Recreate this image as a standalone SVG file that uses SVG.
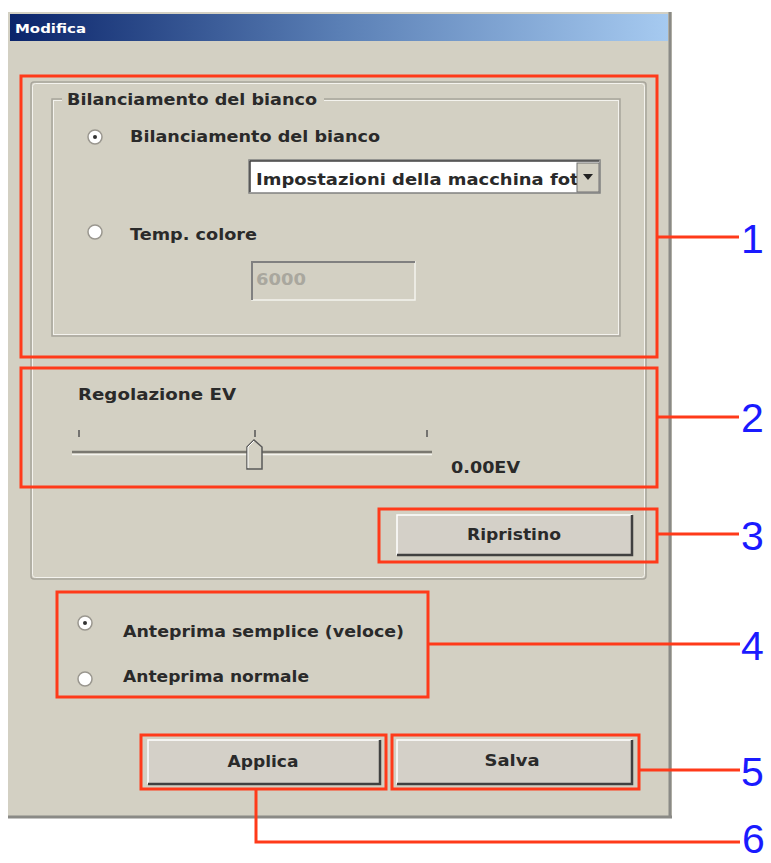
<svg xmlns="http://www.w3.org/2000/svg" width="771" height="863" viewBox="0 0 771 863">
<defs>
<linearGradient id="tb" x1="0" y1="0" x2="1" y2="0">
<stop offset="0" stop-color="#0a246a"/>
<stop offset="0.5" stop-color="#5a7fb5"/>
<stop offset="1" stop-color="#a6caf0"/>
</linearGradient>
<clipPath id="ddclip"><rect x="250" y="161" width="327" height="31"/></clipPath>
</defs>
<style>
.ui{font-family:"DejaVu Sans","Liberation Sans",sans-serif;font-weight:bold;font-size:15px;fill:#2a2a2a}
.num{font-family:"Liberation Sans",Arial,sans-serif;font-size:41px;fill:#1a1aff}
.hl{fill:none;stroke:#ff3a1a;stroke-width:3}
.ld{fill:none;stroke:#ff3a1a;stroke-width:3}
.grp{fill:none;stroke:#a8a59c;stroke-width:1.5}
.grpw{fill:none;stroke:#f4f3ee;stroke-width:1}
.btn{fill:#d4d0c8}
.radio{fill:#ffffff;stroke:#9a978f;stroke-width:1.5}
</style>
<rect x="0" y="0" width="771" height="863" fill="#ffffff"/>
<g id="window">
<rect x="8" y="12" width="664" height="806" fill="#d3d0c3"/>
<rect x="10" y="14" width="658" height="27" fill="url(#tb)"/>
<text x="15" y="33" font-family="DejaVu Sans,Liberation Sans,sans-serif" font-weight="bold" font-size="13" fill="#ffffff" textLength="71" lengthAdjust="spacingAndGlyphs">Modifica</text>
<line x1="670" y1="12" x2="670" y2="818" stroke="#8a8a86" stroke-width="3"/>
<line x1="8" y1="817" x2="672" y2="817" stroke="#8a8a86" stroke-width="3"/>
</g>
<g id="panel">
<rect x="31" y="82" width="615" height="497" rx="3" class="grp"/>
<rect x="32.5" y="83.5" width="612" height="494" rx="3" class="grpw"/>
</g>
<g id="wb-group">
<rect x="52" y="99" width="568" height="237" class="grp"/>
<rect x="53.5" y="100.5" width="565" height="234" class="grpw"/>
<rect x="62" y="92" width="262" height="16" fill="#d3d0c3"/>
<text x="67" y="105" class="ui" textLength="250" lengthAdjust="spacingAndGlyphs">Bilanciamento del bianco</text>
<circle cx="95" cy="137" r="7" class="radio"/>
<circle cx="95" cy="137" r="2" fill="#333"/>
<text x="130" y="142" class="ui" textLength="250" lengthAdjust="spacingAndGlyphs">Bilanciamento del bianco</text>
<rect x="249" y="160" width="351" height="33" fill="#ffffff" stroke="#808080" stroke-width="1.5"/>
<line x1="250" y1="161" x2="599" y2="161" stroke="#404040" stroke-width="1.5"/>
<line x1="250" y1="161" x2="250" y2="192" stroke="#404040" stroke-width="1.5"/>
<text x="256" y="185" class="ui" textLength="335" lengthAdjust="spacingAndGlyphs" clip-path="url(#ddclip)">Impostazioni della macchina foto</text>
<rect x="577" y="163" width="22" height="29" fill="#d3d0c3" stroke="#707070" stroke-width="1"/>
<path d="M583 174 L593 174 L588 180 Z" fill="#222"/>
<circle cx="95" cy="232" r="7" class="radio"/>
<text x="130" y="240" class="ui" textLength="127" lengthAdjust="spacingAndGlyphs">Temp. colore</text>
<rect x="252" y="262" width="163" height="38" fill="#d3d0c3" stroke="#f4f3ee" stroke-width="1.5"/>
<path d="M252 300 L252 262 L415 262" fill="none" stroke="#808080" stroke-width="2"/>
<text x="256" y="285" font-family="DejaVu Sans,Liberation Sans,sans-serif" font-weight="bold" font-size="15" fill="#a9a79e" textLength="50" lengthAdjust="spacingAndGlyphs">6000</text>
</g>
<g id="ev">
<text x="78" y="400" class="ui" textLength="158" lengthAdjust="spacingAndGlyphs">Regolazione EV</text>
<line x1="79" y1="430" x2="79" y2="437" stroke="#555" stroke-width="1.5"/>
<line x1="255" y1="430" x2="255" y2="437" stroke="#555" stroke-width="1.5"/>
<line x1="427" y1="430" x2="427" y2="437" stroke="#555" stroke-width="1.5"/>
<line x1="72" y1="452" x2="432" y2="452" stroke="#7a7870" stroke-width="2.5"/>
<line x1="72" y1="454.5" x2="432" y2="454.5" stroke="#f4f3ee" stroke-width="1.5"/>
<path d="M247 469 L247 447 L254 440 L262 447 L262 469 Z" fill="#d3d0c3" stroke="#5a5a5a" stroke-width="1.5"/>
<path d="M248 468 L248 447 L254 441" fill="none" stroke="#ffffff" stroke-width="1"/>
<text x="451" y="473" class="ui" textLength="69" lengthAdjust="spacingAndGlyphs">0.00EV</text>
</g>
<g id="ripristino">
<rect x="397" y="515" width="235" height="40" class="btn"/>
<path d="M397 555 L397 515 L632 515" fill="none" stroke="#ffffff" stroke-width="1.5"/>
<path d="M397 555 L632 555 L632 515" fill="none" stroke="#404040" stroke-width="2.5"/>
<text x="514" y="540" class="ui" text-anchor="middle" textLength="94" lengthAdjust="spacingAndGlyphs">Ripristino</text>
</g>
<g id="preview">
<circle cx="85" cy="623" r="7" class="radio"/>
<circle cx="85" cy="623" r="2" fill="#333"/>
<text x="123" y="637" class="ui" textLength="281" lengthAdjust="spacingAndGlyphs">Anteprima semplice (veloce)</text>
<circle cx="85" cy="679" r="7" class="radio"/>
<text x="123" y="682" class="ui" textLength="186" lengthAdjust="spacingAndGlyphs">Anteprima normale</text>
</g>
<g id="applica">
<rect x="148" y="740" width="232" height="44" class="btn"/>
<path d="M148 784 L148 740 L380 740" fill="none" stroke="#ffffff" stroke-width="1.5"/>
<path d="M148 784 L380 784 L380 740" fill="none" stroke="#404040" stroke-width="2.5"/>
<text x="263" y="767" class="ui" text-anchor="middle" textLength="71" lengthAdjust="spacingAndGlyphs">Applica</text>
</g>
<g id="salva">
<rect x="397" y="740" width="235" height="44" class="btn"/>
<path d="M397 784 L397 740 L632 740" fill="none" stroke="#ffffff" stroke-width="1.5"/>
<path d="M397 784 L632 784 L632 740" fill="none" stroke="#404040" stroke-width="2.5"/>
<text x="512" y="766" class="ui" text-anchor="middle" textLength="55" lengthAdjust="spacingAndGlyphs">Salva</text>
</g>
<g id="highlights">
<rect x="21" y="76" width="636" height="281" class="hl"/>
<rect x="21" y="368" width="636" height="119" class="hl"/>
<rect x="379" y="509" width="278" height="53" class="hl"/>
<rect x="57" y="592" width="371" height="105" class="hl"/>
<rect x="141" y="735" width="245" height="54" class="hl"/>
<rect x="392" y="735" width="247" height="54" class="hl"/>
</g>
<g id="connectors">
<line x1="657" y1="237" x2="739" y2="237" class="ld"/>
<line x1="657" y1="417" x2="739" y2="417" class="ld"/>
<line x1="657" y1="534" x2="739" y2="534" class="ld"/>
<line x1="428" y1="644" x2="740" y2="644" class="ld"/>
<line x1="639" y1="770" x2="740" y2="770" class="ld"/>
<polyline points="256,789 256,842 740,842" class="ld"/>
</g>
<g id="labels">
<text x="741" y="253" class="num">1</text>
<text x="741" y="432" class="num">2</text>
<text x="741" y="550" class="num">3</text>
<text x="741" y="660" class="num">4</text>
<text x="741" y="786" class="num">5</text>
<text x="742" y="853" class="num" font-size="39">6</text>
</g>
</svg>
